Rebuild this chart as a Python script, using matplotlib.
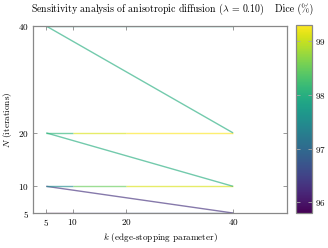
import numpy as np
import matplotlib.pyplot as plt
import matplotlib as mpl
from matplotlib.collections import LineCollection

plt.rcParams['font.family'] = 'cmr10'
plt.rcParams['mathtext.fontset'] = 'cm'
plt.rcParams['axes.formatter.use_mathtext'] = True

# grid of runs: rows are N, columns are k
k_vals = [5, 10, 20, 40]
n_vals = [5, 10, 20, 40]
dice = [
    [95.8, 96.5, 96.8, 96.3],   # N = 5
    [97.5, 98.5, 99.1, 98.0],   # N = 10
    [98.1, 99.1, 99.3, 98.0],   # N = 20
    [97.8, 97.8, 97.8, 97.9],   # N = 40
]

# one polyline through the mesh, row by row (pgfplots "mesh" style)
pts = []
vals = []
for i, n in enumerate(n_vals):
    for j, k in enumerate(k_vals):
        pts.append((k, n))
        vals.append(dice[i][j])
pts = np.array(pts, dtype=float)
vals = np.array(vals)
segs = np.stack([pts[:-1], pts[1:]], axis=1)
seg_vals = vals[:-1]  # flat corner: colour of first vertex

vmin, vmax = vals.min(), vals.max()
norm = mpl.colors.Normalize(vmin=vmin, vmax=vmax)
cmap = plt.get_cmap('viridis')

fs = 6.6
fig = plt.figure(figsize=(3.28, 2.48), dpi=100)
ax = fig.add_axes([0.101, 0.141, 0.774, 0.754])
lc = LineCollection(segs, cmap=cmap, norm=norm, linewidths=1.0, alpha=0.65)
lc.set_array(seg_vals)
ax.add_collection(lc)

ax.set_xlim(2.55, 50.1)
ax.set_ylim(5, 40)
ax.set_xticks(k_vals)
ax.set_yticks(n_vals)
ax.tick_params(direction='in', length=3, width=0.6, color='#888888',
               labelsize=fs, top=True, right=True, pad=3)
for sp in ax.spines.values():
    sp.set_color('#888888')
    sp.set_linewidth(0.9)
ax.set_xlabel('$k$ (edge-stopping parameter)', fontsize=fs, labelpad=2)
ax.set_ylabel('$N$ (iterations)', fontsize=fs, labelpad=3)

fig.text(148 / 328, 1 - 9 / 248,
         r'Sensitivity analysis of anisotropic diffusion ($\lambda$ = 0.10)',
         fontsize=7.1, ha='center', va='center')

cax = fig.add_axes([0.902, 0.141, 0.049, 0.758])
cb = mpl.colorbar.ColorbarBase(cax, cmap=cmap, norm=norm)
cb.set_ticks([96, 97, 98, 99])
cb.outline.set_edgecolor('#888888')
cb.outline.set_linewidth(0.9)
cax.tick_params(direction='in', length=3, width=0.6, color='#aaaaaa',
                labelsize=fs, left=True, right=True, pad=2)
fig.text(294 / 328, 1 - 9 / 248, 'Dice (%)', fontsize=7.1,
         ha='center', va='center')

fig.savefig('out.png', dpi=100)
